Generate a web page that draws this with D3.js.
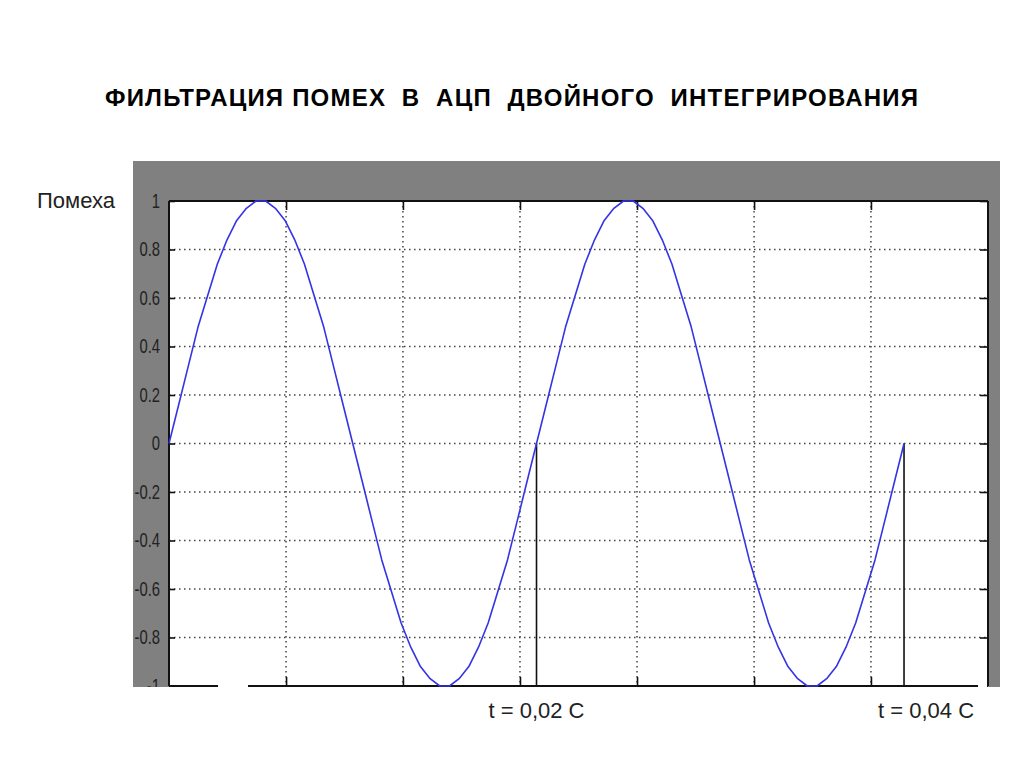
<!DOCTYPE html>
<html>
<head>
<meta charset="utf-8">
<script src="https://cdn.jsdelivr.net/npm/d3@7"></script>
<style>
  html, body { margin: 0; padding: 0; background: #fff; }
  svg { display: block; }
</style>
</head>
<body>
<svg id="chart" width="1024" height="768"></svg>
<script>
// ---- data ----
const title = "ФИЛЬТРАЦИЯ ПОМЕХ  В  АЦП  ДВОЙНОГО  ИНТЕГРИРОВАНИЯ";
const yLabel = "Помеха";
const sampleStep = 0.02 / 38;           // seconds between samples
const noiseValues = [
  0, 0.16, 0.32, 0.48, 0.61, 0.74, 0.84, 0.92, 0.97, 1.00,
  1.00, 0.97, 0.92, 0.84, 0.74, 0.61, 0.48, 0.32, 0.16, 0,
  -0.16, -0.32, -0.48, -0.61, -0.74, -0.84, -0.92, -0.97, -1.00,
  -1.00, -0.97, -0.92, -0.84, -0.74, -0.61, -0.48, -0.32, -0.16,
  0, 0.16, 0.32, 0.48, 0.61, 0.74, 0.84, 0.92, 0.97, 1.00,
  1.00, 0.97, 0.92, 0.84, 0.74, 0.61, 0.48, 0.32, 0.16, 0,
  -0.16, -0.32, -0.48, -0.61, -0.74, -0.84, -0.92, -0.97, -1.00,
  -1.00, -0.97, -0.92, -0.84, -0.74, -0.61, -0.48, -0.32, -0.16,
  0
];
const yTicks = [1, 0.8, 0.6, 0.4, 0.2, 0, -0.2, -0.4, -0.6, -0.8, -1];
const yTickLabels = ["1", "0.8", "0.6", "0.4", "0.2", "0", "-0.2", "-0.4", "-0.6", "-0.8", "-1"];
const xMax = 0.04457;
const xGridTicks = [0.00637, 0.01273, 0.0191, 0.02547, 0.03184, 0.0382];
const markerTimes = [0.02, 0.04];
const markerLabels = ["t = 0,02 С", "t = 0,04 С"];

// ---- layout ----
const svg = d3.select("#chart");
const plot = { left: 169, right: 988, top: 201, bottom: 686 };
const x = d3.scaleLinear().domain([0, xMax]).range([plot.left, plot.right]);
const y = d3.scaleLinear().domain([-1, 1]).range([plot.bottom, plot.top]);

// title
svg.append("text")
  .attr("x", 105).attr("y", 106)
  .attr("font-family", "Liberation Sans, Arial, sans-serif")
  .attr("font-weight", "bold")
  .attr("font-size", 24)
  .attr("fill", "#000")
  .attr("textLength", 813)
  .attr("lengthAdjust", "spacing")
  .style("white-space", "pre")
  .text(title);

// gray figure background
svg.append("defs").append("clipPath").attr("id", "figclip")
  .append("rect").attr("x", 133).attr("y", 161).attr("width", 867).attr("height", 526);
const fig = svg.append("g").attr("clip-path", "url(#figclip)");
fig.append("rect").attr("x", 133).attr("y", 161).attr("width", 867).attr("height", 526)
  .attr("fill", "#808080");

// plot area
fig.append("rect").attr("x", plot.left).attr("y", plot.top)
  .attr("width", plot.right - plot.left).attr("height", plot.bottom - plot.top)
  .attr("fill", "#fff");

// grid
const grid = fig.append("g").attr("stroke", "#444").attr("stroke-width", 1.5)
  .attr("stroke-dasharray", "1.5 3.5");
grid.selectAll("line.h").data(yTicks.filter(v => v !== 1 && v !== -1)).join("line")
  .attr("x1", plot.left).attr("x2", plot.right)
  .attr("y1", d => y(d)).attr("y2", d => y(d));
grid.selectAll("line.v").data(xGridTicks).join("line")
  .attr("class", "v")
  .attr("x1", d => x(d)).attr("x2", d => x(d))
  .attr("y1", plot.top).attr("y2", plot.bottom);

// y axis using d3 axis (ticks inward)
const yAxis = d3.axisLeft(y).tickValues(yTicks)
  .tickFormat((d, i) => yTickLabels[i]).tickSize(-6).tickPadding(10);
const yg = fig.append("g").attr("transform", `translate(${plot.left},0)`).call(yAxis);
yg.select(".domain").remove();
yg.attr("font-size", 20).attr("font-family", "Liberation Sans, Arial, sans-serif");
yg.selectAll(".tick line").attr("stroke", "#111").attr("stroke-width", 1.6);
yg.selectAll(".tick text")
  .attr("x", 0)
  .attr("transform", "translate(-9,0) scale(0.74,1)")
  .attr("font-family", "Liberation Sans, Arial, sans-serif")
  .attr("font-size", 20).attr("fill", "#222");

// right ticks
const yAxisR = d3.axisRight(y).tickValues(yTicks).tickFormat("").tickSize(-8);
const ygr = fig.append("g").attr("transform", `translate(${plot.right},0)`).call(yAxisR);
ygr.select(".domain").remove();
ygr.selectAll(".tick line").attr("stroke", "#111").attr("stroke-width", 1.6);

// top / bottom ticks
const xAxisT = d3.axisTop(x).tickValues(xGridTicks).tickFormat("").tickSize(-9);
const xgt = fig.append("g").attr("transform", `translate(0,${plot.top})`).call(xAxisT);
xgt.select(".domain").remove();
xgt.selectAll(".tick line").attr("stroke", "#111").attr("stroke-width", 1.6);
const xAxisB = d3.axisBottom(x).tickValues(xGridTicks).tickFormat("").tickSize(-9);
const xgb = fig.append("g").attr("transform", `translate(0,${plot.bottom})`).call(xAxisB);
xgb.select(".domain").remove();
xgb.selectAll(".tick line").attr("stroke", "#111").attr("stroke-width", 1.6);

// frame
const frame = fig.append("g").attr("stroke", "#111").attr("stroke-width", 2).attr("fill", "none");
frame.append("line").attr("x1", plot.left).attr("x2", plot.left).attr("y1", plot.top).attr("y2", plot.bottom);
frame.append("line").attr("x1", plot.left).attr("x2", plot.right).attr("y1", plot.top).attr("y2", plot.top);
frame.append("line").attr("x1", plot.right).attr("x2", plot.right).attr("y1", plot.top).attr("y2", plot.bottom);
frame.append("line").attr("x1", plot.left).attr("x2", 978).attr("y1", plot.bottom).attr("y2", plot.bottom);
// breaks in the bottom line as seen in the picture
fig.append("rect").attr("x", 218).attr("y", plot.bottom - 1.5).attr("width", 30).attr("height", 3).attr("fill", "#fff");
fig.append("rect").attr("x", 978).attr("y", plot.bottom - 1.5).attr("width", 9).attr("height", 3).attr("fill", "#fff");

// marker vertical lines
fig.selectAll("line.marker").data(markerTimes).join("line")
  .attr("class", "marker")
  .attr("x1", d => x(d)).attr("x2", d => x(d))
  .attr("y1", y(0)).attr("y2", plot.bottom)
  .attr("stroke", "#111").attr("stroke-width", 1.6);

// noise curve
const line = d3.line().x((d, i) => x(i * sampleStep)).y(d => y(d));
fig.append("path").datum(noiseValues)
  .attr("d", line)
  .attr("fill", "none")
  .attr("stroke", "#3434e4")
  .attr("stroke-width", 1.6)
  .attr("stroke-linejoin", "round");

// y label
svg.append("text").attr("x", 37).attr("y", 208)
  .attr("font-family", "Liberation Sans, Arial, sans-serif")
  .attr("font-size", 22).attr("fill", "#222")
  .text(yLabel);

// marker labels
const labelX = [x(0.02), x(0.04) + 22];
svg.selectAll("text.mlabel").data(markerLabels).join("text")
  .attr("class", "mlabel")
  .attr("x", (d, i) => labelX[i]).attr("y", 718)
  .attr("text-anchor", "middle")
  .attr("font-family", "Liberation Sans, Arial, sans-serif")
  .attr("font-size", 22).attr("fill", "#222")
  .text(d => d);
</script>
</body>
</html>
